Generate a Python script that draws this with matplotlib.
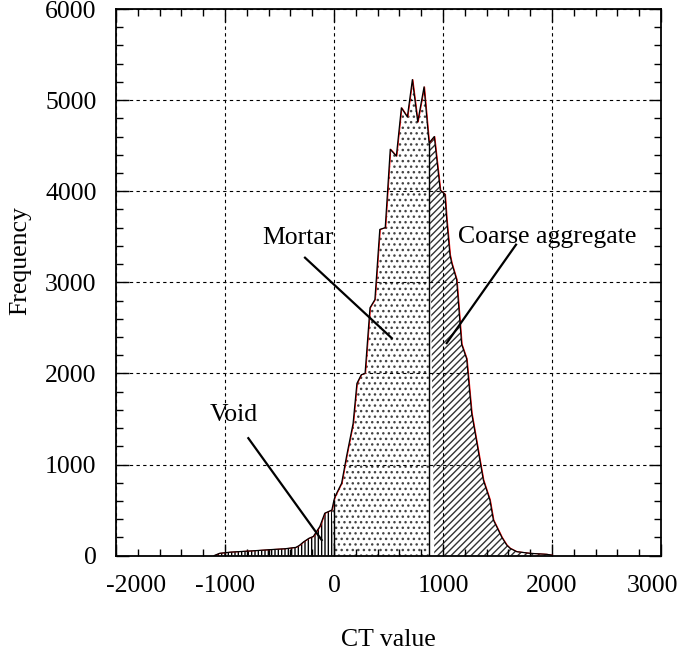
import numpy as np
import matplotlib
matplotlib.use("Agg")
import matplotlib.pyplot as plt
import matplotlib.transforms as mtransforms

# CT value histogram of a concrete slice
ct_values = [-1100, -1050, -950, -850, -750, -650, -550, -450, -350, -320, -280,
             -230, -190, -130, -85, -20, 0, 10, 70, 115, 175, 210, 250, 285, 330,
             375, 420, 470, 516, 572, 618, 673, 719, 768, 826, 872, 920, 975, 1018,
             1034, 1064, 1080, 1125, 1171, 1217, 1263, 1370, 1430, 1462, 1492, 1540,
             1584, 1615, 1676, 1798, 1951, 2000]
frequency = [0, 25, 38, 45, 52, 60, 68, 75, 90, 110, 150,
             190, 210, 320, 465, 500, 611, 650, 795, 1090, 1450, 1890, 1985, 2000, 2720,
             2810, 3580, 3600, 4460, 4385, 4915, 4815, 5225, 4760, 5145, 4530, 4600, 4010, 3965,
             3690, 3300, 3210, 3030, 2320, 2160, 1564, 830, 611, 391, 318, 200,
             116, 80, 43, 25, 14, 5]

# thresholds between phases
void_limit = 0
mortar_limit = 875

phase_names = ["Void", "Mortar", "Coarse aggregate"]
label_pos = [(-917, 1545), (-330, 3490), (1954, 3501)]
pointer_start = [(-786, 1289), (-266, 3270), (1670, 3413)]
pointer_end = [(-113, 171), (530, 2387), (1034, 2333)]

x = np.array(ct_values, dtype=float)
y = np.array(frequency, dtype=float)

plt.rcParams['font.family'] = ['Liberation Serif', 'DejaVu Serif']
plt.rcParams['hatch.linewidth'] = 1.0
plt.rcParams['axes.unicode_minus'] = False

fig = plt.figure(figsize=(6.85, 6.55), dpi=100)
ax = fig.add_axes([116 / 685, 1 - 555.6 / 655, (661 - 116) / 685, (555.6 - 9) / 655])

# hatched areas for the three phases
ax.fill_between(x, y, where=x <= void_limit, interpolate=True,
                facecolor='white', edgecolor='black', hatch='|||||', linewidth=0)
ax.fill_between(x, y, where=(x >= void_limit) & (x <= mortar_limit), interpolate=True,
                facecolor='white', edgecolor='#444444', hatch='...', linewidth=0)
ax.fill_between(x, y, where=x >= mortar_limit, interpolate=True,
                facecolor='white', edgecolor='#333333', hatch='/////', linewidth=0)

# outline (red copy slightly shifted, black on top)
shift = mtransforms.offset_copy(ax.transData, fig=fig, x=0.6, y=0, units='dots')
ax.plot(x, y, color='red', lw=0.7, transform=shift)
ax.plot(x, y, color='black', lw=0.9)

# phase boundaries
for lim in (void_limit, mortar_limit):
    ax.vlines(lim, 0, np.interp(lim, x, y), color='black', lw=1.0)

for name, (tx, ty), (sx, sy), (ex, ey) in zip(phase_names, label_pos, pointer_start, pointer_end):
    ax.text(tx, ty, name, fontsize=18.5, ha='center', va='center')
    ax.plot([sx, ex], [sy, ey], color='black', lw=1.6)

ax.set_xlim(-2000, 3000)
ax.set_ylim(0, 6000)
ax.set_xticks(np.arange(-2000, 3001, 1000))
ax.set_yticks(np.arange(0, 6001, 1000))
ax.set_xticks(np.arange(-2000, 3001, 200), minor=True)
ax.set_yticks(np.arange(0, 6001, 200), minor=True)
ax.tick_params(which='both', direction='in', top=True, right=True, labelsize=18.5)
ax.tick_params(which='major', length=9, width=1.0)
ax.tick_params(which='minor', length=5, width=1.0)
ax.tick_params(axis='x', pad=14)
ax.tick_params(axis='y', pad=14)
ax.grid(True, which='major', color='black', linestyle=(0, (3, 3)), lw=0.8)
for sp in ax.spines.values():
    sp.set_linewidth(1.3)

xlabels = ax.get_xticklabels()
xlabels[0].set_transform(xlabels[0].get_transform() +
                         mtransforms.ScaledTranslation(20 / 100, 0, fig.dpi_scale_trans))
xlabels[-1].set_transform(xlabels[-1].get_transform() +
                          mtransforms.ScaledTranslation(-9 / 100, 0, fig.dpi_scale_trans))

ax.set_xlabel('CT value', fontsize=18.5)
ax.set_ylabel('Frequency', fontsize=18.5)
ax.xaxis.set_label_coords(0.5, -0.135)
ax.yaxis.set_label_coords(-0.155, 0.54)

fig.savefig('out.png', dpi=100)
